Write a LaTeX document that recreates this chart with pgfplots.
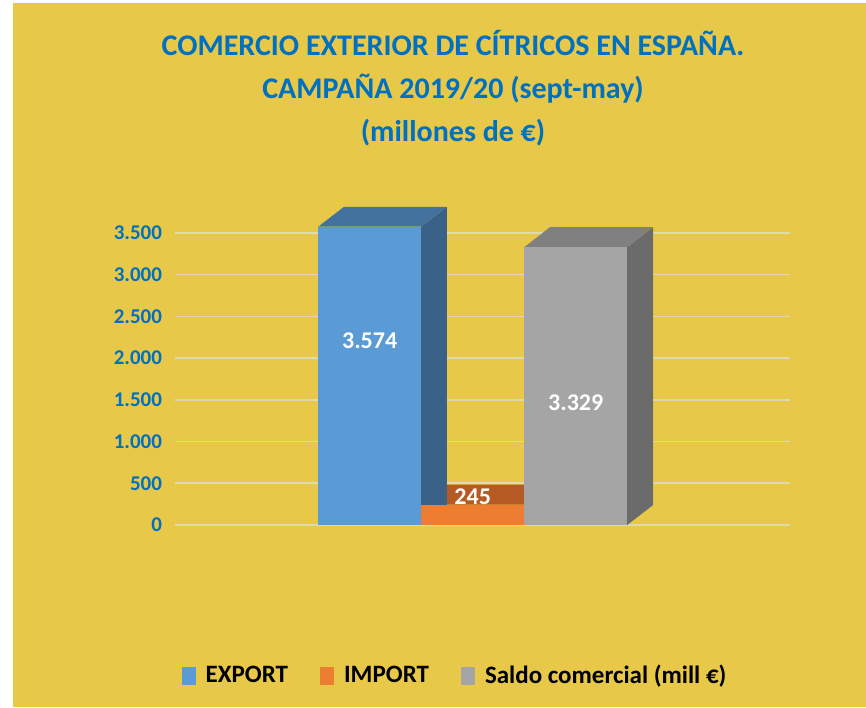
\documentclass[border=0pt]{standalone}
\usepackage{pgfplots}
\pgfplotsset{compat=1.18}
\usepackage{fontspec}
\setmainfont{Carlito}
\definecolor{bgy}{RGB}{232,200,72}
\definecolor{titleblue}{RGB}{0,112,192}
\definecolor{exportc}{RGB}{91,155,213}
\definecolor{exportside}{RGB}{58,98,136}
\definecolor{exporttop}{RGB}{67,114,158}
\definecolor{importc}{RGB}{237,125,49}
\definecolor{importtop}{RGB}{181,90,34}
\definecolor{saldoc}{RGB}{165,165,165}
\definecolor{saldoside}{RGB}{107,107,107}
\definecolor{saldotop}{RGB}{128,128,128}
\definecolor{gridc}{RGB}{222,218,175}
\begin{document}
\begin{tikzpicture}
\fill[white] (0pt,0pt) rectangle (433pt,353.5pt);
\fill[bgy] (6.5pt,0pt) rectangle (433pt,352pt);
\node[align=center, text=titleblue, font=\fontsize{15}{21.5}\selectfont\bfseries] at (226.5pt,309.5pt)
  {COMERCIO EXTERIOR DE CÍTRICOS EN ESPAÑA.\\CAMPAÑA 2019/20 (sept-may)\\(millones de €)};
\begin{axis}[
  at={(87.5pt,91pt)}, anchor=south west,
  scale only axis, width=307.5pt, height=152.3pt,
  xmin=-1.89, xmax=4.08, ymin=0, ymax=3650,
  clip=false,
  axis line style={draw=none},
  xtick=\empty,
  ytick={0,500,...,3500},
  major tick length=0pt,
  ymajorgrids,
  grid style={draw=gridc, line width=0.8pt},
  scaled y ticks=false,
  /pgf/number format/.cd, 1000 sep={.}, assume math mode=true, /pgfplots/.cd,
  yticklabel style={font=\fontsize{10.5}{12}\selectfont\bfseries, text=titleblue, xshift=-3pt},
  ybar, bar width=1, bar shift=0pt,
  legend image code/.code={\fill[#1] (0pt,-4.5pt) rectangle (7pt,4.5pt);},
  legend columns=3,
  legend style={draw=none, fill=none, at={(0.457,-0.496)}, anchor=center,
    font=\fontsize{12.5}{15}\selectfont\bfseries,
    /tikz/every odd column/.append style={column sep=3pt},
    /tikz/every even column/.append style={column sep=14pt}},
]
% depth faces (3-D look), from the same values: depth 0.25 in x, 239 in y
\addplot[sharp plot, fill=importtop, draw=none, forget plot]
  coordinates {(0.5,245) (1.5,245) (1.75,484) (0.75,484)} -- cycle;
\addplot[sharp plot, fill=exportside, draw=none, forget plot]
  coordinates {(0.5,0) (0.75,239) (0.75,3813) (0.5,3574)} -- cycle;
\addplot[sharp plot, fill=exporttop, draw=none, forget plot]
  coordinates {(-0.5,3574) (0.5,3574) (0.75,3813) (-0.25,3813)} -- cycle;
\addplot[sharp plot, fill=saldoside, draw=none, forget plot]
  coordinates {(2.5,0) (2.75,239) (2.75,3568) (2.5,3329)} -- cycle;
\addplot[sharp plot, fill=saldotop, draw=none, forget plot]
  coordinates {(1.5,3329) (2.5,3329) (2.75,3568) (1.75,3568)} -- cycle;
% front faces (the data)
\addplot[fill=exportc, draw=none, nodes near coords,
  nodes near coords style={anchor=center, yshift=-57pt, text=white, font=\fontsize{12}{13}\selectfont\bfseries}]
  coordinates {(0,3574)};
\addlegendentry{EXPORT}
\addplot[fill=importc, draw=none, nodes near coords,
  nodes near coords style={anchor=center, yshift=4pt, text=white, font=\fontsize{12}{13}\selectfont\bfseries}]
  coordinates {(1,245)};
\addlegendentry{IMPORT}
\addplot[fill=saldoc, draw=none, nodes near coords,
  nodes near coords style={anchor=center, yshift=-78pt, text=white, font=\fontsize{12}{13}\selectfont\bfseries}]
  coordinates {(2,3329)};
\addlegendentry{Saldo comercial (mill €)}
\end{axis}
\end{tikzpicture}
\end{document}
